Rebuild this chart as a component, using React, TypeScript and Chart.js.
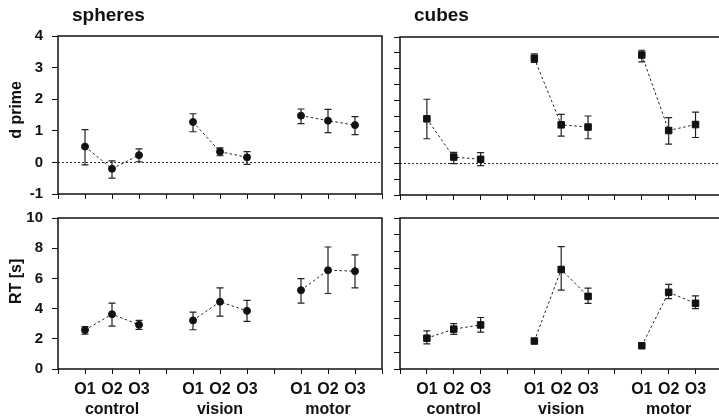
import React, { useEffect, useRef } from 'react';
import { Chart, registerables } from 'chart.js';

Chart.register(...registerables);

// ---------- data ----------
const CONDITIONS = ['O1', 'O2', 'O3'];
const GROUPS = ['control', 'vision', 'motor'];
const PANEL_TITLES = ['spheres', 'cubes'];
const ROW_TITLES = ['d prime', 'RT [s]'];

const DPRIME_TICKS = [-1, 0, 1, 2, 3, 4];
const DPRIME_MINOR_TICKS = [-1, -0.5, 0, 0.5, 1, 1.5, 2, 2.5, 3, 3.5, 4];
const RT_TICKS = [0, 2, 4, 6, 8, 10];
const RT_MINOR_TICK_COUNT = 9;

const spheresDprime = [0.5, -0.2, 0.23, 1.28, 0.34, 0.16, 1.48, 1.32, 1.18];
const spheresDprimeHi = [1.04, 0.05, 0.43, 1.54, 0.46, 0.34, 1.69, 1.68, 1.45];
const spheresDprimeLo = [-0.08, -0.5, 0.02, 0.97, 0.21, -0.06, 1.23, 0.94, 0.88];

const cubesDprime = [1.41, 0.2, 0.13, 3.33, 1.22, 1.15, 3.43, 1.04, 1.23];
const cubesDprimeHi = [2.03, 0.35, 0.34, 3.47, 1.55, 1.5, 3.58, 1.45, 1.62];
const cubesDprimeLo = [0.78, -0.01, -0.07, 3.2, 0.86, 0.78, 3.21, 0.61, 0.82];

const spheresRT = [2.58, 3.63, 2.93, 3.22, 4.45, 3.85, 5.22, 6.54, 6.48];
const spheresRTHi = [2.8, 4.36, 3.22, 3.77, 5.37, 4.54, 5.99, 8.08, 7.56];
const spheresRTLo = [2.31, 2.84, 2.62, 2.6, 3.5, 3.15, 4.36, 5.0, 5.37];

const cubesRT = [2.04, 2.64, 2.92, 1.85, 6.59, 4.81, 1.54, 5.08, 4.35];
const cubesRTHi = [2.53, 3.01, 3.41, 1.85, 8.11, 5.36, 1.54, 5.6, 4.84];
const cubesRTLo = [1.67, 2.29, 2.44, 1.85, 5.23, 4.35, 1.54, 4.66, 4.0];

// ---------- helpers ----------
const FONT = '"Liberation Sans", Arial, Helvetica, sans-serif';
const INK = '#111';

// category slots: gap, O1, O2, O3, gap, O1, ...
const X_LABELS: string[] = [''];
GROUPS.forEach(() => {
  CONDITIONS.forEach((c) => X_LABELS.push(c));
  X_LABELS.push('');
});

function spread(values: number[]): (number | null)[] {
  const out: (number | null)[] = [null];
  GROUPS.forEach((_, g) => {
    CONDITIONS.forEach((_, i) => out.push(values[g * CONDITIONS.length + i]));
    out.push(null);
  });
  return out;
}

type PanelProps = {
  left: number;
  top: number;
  width: number;
  height: number;
  padTop: number;
  padRight: number;
  yWidth: number;
  xHeight: number;
  values: number[];
  hi: number[];
  lo: number[];
  yMin: number;
  yMax: number;
  yTicks: number[];
  showYLabels: boolean;
  showXLabels: boolean;
  pointStyle: 'circle' | 'rect';
  pointRadius: number;
  title?: string;
  yTitle?: string;
  yTitleFrac?: number;
  zeroLine: boolean;
};

function Panel(p: PanelProps) {
  const ref = useRef<HTMLCanvasElement | null>(null);
  useEffect(() => {
    if (!ref.current) return;
    const hi13 = spread(p.hi);
    const lo13 = spread(p.lo);
    const decor = {
      id: 'decor',
      beforeDatasetsDraw(chart: any) {
        const { ctx, chartArea: a } = chart;
        const y = chart.scales.y;
        ctx.save();
        if (p.zeroLine) {
          const y0 = Math.round(y.getPixelForValue(0)) + 0.5;
          ctx.strokeStyle = '#333';
          ctx.lineWidth = 1;
          ctx.setLineDash([2, 2]);
          ctx.beginPath();
          ctx.moveTo(a.left, y0);
          ctx.lineTo(a.right, y0);
          ctx.stroke();
        }
        ctx.setLineDash([]);
        ctx.strokeStyle = '#222';
        ctx.lineWidth = 1.2;
        const meta = chart.getDatasetMeta(0);
        meta.data.forEach((pt: any, i: number) => {
          const h = hi13[i];
          const l = lo13[i];
          if (h == null || l == null || h === l) return;
          const x = pt.x;
          const yh = y.getPixelForValue(h);
          const yl = y.getPixelForValue(l);
          ctx.beginPath();
          ctx.moveTo(x, yh);
          ctx.lineTo(x, yl);
          ctx.moveTo(x - 3.5, yh);
          ctx.lineTo(x + 3.5, yh);
          ctx.moveTo(x - 3.5, yl);
          ctx.lineTo(x + 3.5, yl);
          ctx.stroke();
        });
        ctx.restore();
      },
      afterDraw(chart: any) {
        const { ctx, chartArea: a } = chart;
        ctx.save();
        ctx.strokeStyle = INK;
        ctx.lineWidth = 1.5;
        ctx.strokeRect(a.left, a.top, a.right - a.left, a.bottom - a.top);
        ctx.fillStyle = INK;
        if (p.title) {
          ctx.font = `bold 19px ${FONT}`;
          ctx.textAlign = 'left';
          ctx.textBaseline = 'alphabetic';
          ctx.fillText(p.title, a.left + 14, 21);
        }
        if (p.yTitle) {
          ctx.font = `bold 16px ${FONT}`;
          ctx.textAlign = 'center';
          ctx.textBaseline = 'middle';
          ctx.translate(17, a.top + (p.yTitleFrac ?? 0.5) * (a.bottom - a.top));
          ctx.rotate(-Math.PI / 2);
          ctx.fillText(p.yTitle, 0, 0);
        }
        ctx.restore();
      },
    };

    const chart = new Chart(ref.current, {
      type: 'line',
      data: {
        labels: X_LABELS,
        datasets: [
          {
            data: spread(p.values),
            borderColor: '#222',
            borderWidth: 1,
            borderDash: [2.5, 2.5],
            spanGaps: false,
            tension: 0,
            pointStyle: p.pointStyle,
            pointRadius: p.pointRadius,
            pointBackgroundColor: INK,
            pointBorderColor: INK,
            pointBorderWidth: 1,
          },
        ],
      },
      options: {
        animation: false,
        responsive: false,
        maintainAspectRatio: false,
        layout: { padding: { top: p.padTop, right: p.padRight, left: 0, bottom: 0 } },
        plugins: {
          legend: { display: false },
          tooltip: { enabled: false },
          title: { display: false },
        },
        scales: {
          x: {
            type: 'category',
            offset: false,
            border: { display: false },
            grid: {
              display: true,
              drawOnChartArea: false,
              drawTicks: true,
              tickLength: 5,
              color: INK,
              lineWidth: 1,
              offset: false,
            },
            ticks: {
              display: p.showXLabels,
              autoSkip: false,
              maxRotation: 0,
              minRotation: 0,
              padding: 6,
              color: INK,
              font: { family: FONT, size: 16, weight: 'bold', lineHeight: 1.22 },
              callback: (_v: any, idx: number) => {
                const l = X_LABELS[idx];
                if (l === CONDITIONS[1]) return [l, GROUPS[Math.floor(idx / 4)]];
                return l;
              },
            },
            afterFit: (s: any) => {
              s.height = p.xHeight;
              s.paddingLeft = 0;
              s.paddingRight = 0;
            },
          },
          y: {
            type: 'linear',
            min: p.yMin,
            max: p.yMax,
            border: { display: false },
            grid: {
              display: true,
              drawOnChartArea: false,
              drawTicks: true,
              tickLength: 6,
              color: INK,
              lineWidth: 1,
            },
            ticks: {
              display: p.showYLabels,
              padding: 9,
              color: INK,
              font: { family: FONT, size: 15, weight: 'bold' },
              callback: (v: any) => String(v),
            },
            afterBuildTicks: (s: any) => {
              s.ticks = p.yTicks.map((v) => ({ value: v }));
            },
            afterFit: (s: any) => {
              s.width = p.yWidth;
              s.paddingTop = 0;
              s.paddingBottom = 0;
            },
          },
        },
      },
      plugins: [decor],
    } as any);
    return () => chart.destroy();
  }, []);

  return (
    <canvas
      ref={ref}
      width={p.width}
      height={p.height}
      style={{ position: 'absolute', left: p.left, top: p.top, width: p.width, height: p.height, display: 'block' }}
    />
  );
}

const rtMinor = Array.from({ length: RT_MINOR_TICK_COUNT + 1 }, (_, i) => (i * RT_TICKS[RT_TICKS.length - 1]) / RT_MINOR_TICK_COUNT);

export default function App() {
  return (
    <div
      style={{
        position: 'fixed',
        left: 0,
        top: 0,
        width: 719,
        height: 418,
        overflow: 'hidden',
        background: '#fff',
      }}
    >
      <Panel
        left={0} top={0} width={390} height={205} padTop={36} padRight={8} yWidth={58} xHeight={11}
        values={spheresDprime} hi={spheresDprimeHi} lo={spheresDprimeLo}
        yMin={DPRIME_TICKS[0]} yMax={DPRIME_TICKS[DPRIME_TICKS.length - 1]} yTicks={DPRIME_TICKS}
        showYLabels={true} showXLabels={false} pointStyle="circle" pointRadius={3.5}
        title={PANEL_TITLES[0]} yTitle={ROW_TITLES[0]} yTitleFrac={0.468} zeroLine={true}
      />
      <Panel
        left={390} top={0} width={338} height={205} padTop={37} padRight={0} yWidth={10} xHeight={10}
        values={cubesDprime} hi={cubesDprimeHi} lo={cubesDprimeLo}
        yMin={DPRIME_TICKS[0]} yMax={DPRIME_TICKS[DPRIME_TICKS.length - 1]} yTicks={DPRIME_MINOR_TICKS}
        showYLabels={false} showXLabels={false} pointStyle="rect" pointRadius={4.6}
        title={PANEL_TITLES[1]} zeroLine={true}
      />
      <Panel
        left={0} top={200} width={390} height={218} padTop={18} padRight={8} yWidth={58} xHeight={49}
        values={spheresRT} hi={spheresRTHi} lo={spheresRTLo}
        yMin={RT_TICKS[0]} yMax={RT_TICKS[RT_TICKS.length - 1]} yTicks={RT_TICKS}
        showYLabels={true} showXLabels={true} pointStyle="circle" pointRadius={3.5}
        yTitle={ROW_TITLES[1]} yTitleFrac={0.42} zeroLine={false}
      />
      <Panel
        left={390} top={200} width={338} height={218} padTop={18} padRight={0} yWidth={10} xHeight={49}
        values={cubesRT} hi={cubesRTHi} lo={cubesRTLo}
        yMin={RT_TICKS[0]} yMax={RT_TICKS[RT_TICKS.length - 1]} yTicks={rtMinor}
        showYLabels={false} showXLabels={true} pointStyle="rect" pointRadius={4.6}
        zeroLine={false}
      />
    </div>
  );
}
